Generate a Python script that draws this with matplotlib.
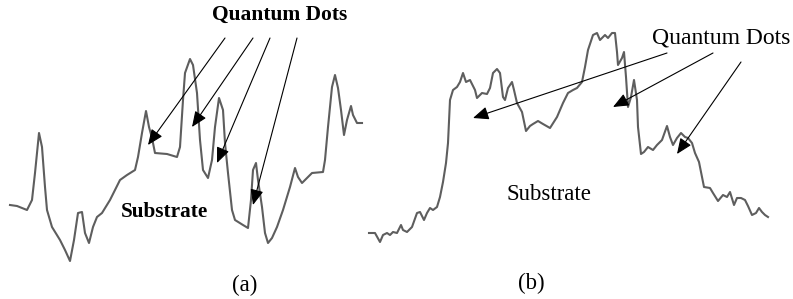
import numpy as np
import matplotlib
matplotlib.use("Agg")
import matplotlib.pyplot as plt

# perfil (a): posição e altura (leitura da figura, eixo vertical para baixo)
xa = [10, 17, 27, 32, 35, 39, 42, 45, 47, 52, 60, 65, 70, 74, 78, 82, 85, 89, 93, 97,
      102, 110, 120, 127, 135, 138, 142, 146, 149, 152, 155, 167, 177, 180, 183, 185,
      190, 193, 197, 200, 203, 208, 212, 215, 219, 223, 225, 228, 232, 235, 243, 248,
      251, 253, 256, 258, 262, 265, 268, 272, 277, 283, 290, 295, 298, 302, 305, 312,
      323, 325, 328, 332, 335, 338, 341, 344, 347, 351, 353, 357, 362]
ya = [205, 206, 210, 200, 173, 133, 147, 187, 210, 227, 240, 250, 261, 240, 213, 212,
      233, 243, 227, 217, 213, 200, 180, 175, 170, 157, 133, 111, 127, 138, 153, 154,
      157, 147, 100, 73, 59, 65, 93, 140, 170, 178, 160, 127, 98, 110, 143, 173, 210,
      220, 225, 228, 200, 170, 163, 180, 207, 233, 243, 238, 227, 210, 187, 168, 177,
      183, 180, 173, 172, 160, 127, 87, 75, 88, 110, 135, 120, 106, 115, 123, 123]

# perfil (b)
xb = [369, 375, 380, 383, 387, 390, 393, 397, 401, 403, 407, 412, 417, 420, 424, 427,
      430, 433, 437, 440, 443, 446, 448, 450, 453, 457, 460, 463, 466, 470, 475, 477,
      482, 487, 490, 493, 497, 500, 503, 505, 508, 512, 514, 517, 522, 526, 530, 533,
      538, 543, 550, 557, 563, 568, 573, 577, 582, 585, 588, 593, 597, 600, 605, 608,
      612, 615, 617, 618, 622, 624, 626, 628, 631, 634, 637, 638, 641, 644, 648, 653,
      657, 662, 667, 670, 673, 677, 681, 685, 688, 692, 695, 699, 702, 704, 710, 713,
      718, 723, 727, 730, 734, 737, 741, 745, 748, 752, 756, 759, 762, 765, 768]
yb = [233, 233, 242, 235, 233, 235, 232, 233, 225, 230, 232, 227, 213, 212, 220, 213,
      208, 210, 207, 197, 182, 163, 143, 100, 90, 87, 82, 73, 82, 80, 90, 98,
      93, 94, 88, 73, 69, 73, 97, 100, 88, 82, 90, 103, 112, 131, 126, 124,
      121, 124, 128, 117, 103, 93, 90, 88, 82, 67, 50, 35, 33, 40, 35, 38,
      33, 33, 52, 65, 58, 52, 77, 107, 97, 80, 100, 127, 154, 152, 147, 150,
      145, 140, 126, 137, 145, 138, 133, 137, 138, 143, 153, 162, 177, 187, 188, 193,
      201, 195, 197, 192, 205, 198, 198, 200, 206, 215, 213, 208, 212, 215, 217]

# setas: (início, ponta)
setas_a = [((225, 38), (148, 145)), ((253, 38), (192, 127)),
           ((270, 38), (217, 163)), ((297, 38), (253, 205))]
setas_b = [((667, 53), (473, 118)), ((713, 53), (613, 107)),
           ((741, 62), (677, 154))]

fig = plt.figure(figsize=(7.93, 2.99), dpi=100)
ax = fig.add_axes([0, 0, 1, 1])
ax.set_xlim(0, 793)
ax.set_ylim(299, 0)
ax.axis('off')

cor_linha = '#5e5e5e'
ax.plot(xa, ya, color=cor_linha, lw=1.5, solid_joinstyle='round')
ax.plot(xb, yb, color=cor_linha, lw=1.5, solid_joinstyle='round')

props = dict(arrowstyle='-|>,head_length=0.95,head_width=0.4', color='black',
             lw=0.8, shrinkA=0, shrinkB=0)
for ini, fim in setas_a + setas_b:
    ax.annotate('', xy=fim, xytext=ini, arrowprops=props)

serif = 'Liberation Serif'
ax.text(280, 15, 'Quantum Dots', family=serif, weight='bold', fontsize=15.5,
        ha='center', va='center')
ax.text(164, 212, 'Substrate', family=serif, weight='bold', fontsize=15.3,
        ha='center', va='center')
ax.text(721, 38, 'Quantum Dots', family=serif, fontsize=17,
        ha='center', va='center')
ax.text(549, 195, 'Substrate', family=serif, fontsize=16.4,
        ha='center', va='center')
ax.text(245, 285, '(a)', family=serif, fontsize=16.5, ha='center', va='center')
ax.text(531, 283, '(b)', family=serif, fontsize=16.5, ha='center', va='center')

fig.savefig('out.png', dpi=100)
